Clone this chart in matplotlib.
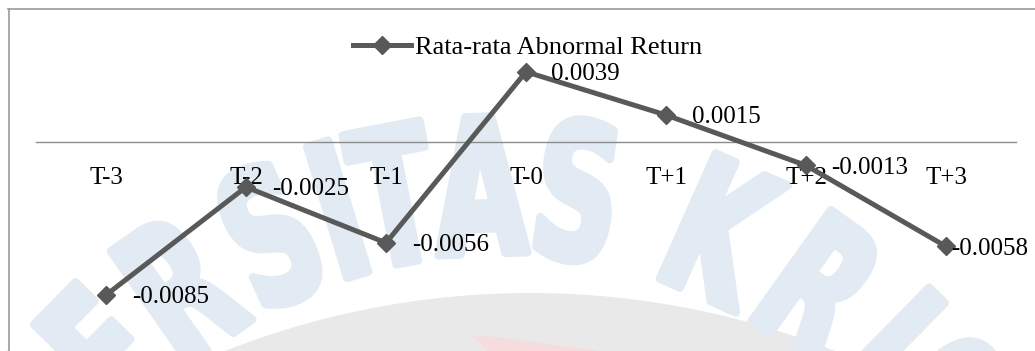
import numpy as np
import matplotlib
matplotlib.use("Agg")
import matplotlib.pyplot as plt
from matplotlib.lines import Line2D
from matplotlib.patches import PathPatch, Circle, Polygon
from matplotlib.textpath import TextPath
from matplotlib.font_manager import FontProperties
from matplotlib.transforms import Affine2D, IdentityTransform

# abnormal return around the event day
periods = ["T-3", "T-2", "T-1", "T-0", "T+1", "T+2", "T+3"]
avg_ar = [-0.0085, -0.0025, -0.0056, 0.0039, 0.0015, -0.0013, -0.0058]
series_name = "Rata-rata Abnormal Return"

# label offsets (points) to the right of each marker
label_dx = [19, 19, 19, 18, 19, 18, 3.5]

W, H = 1035, 351
line_color = "#595959"
plt.rcParams["font.family"] = ["Liberation Serif", "DejaVu Serif"]

fig = plt.figure(figsize=(W / 100, H / 100), dpi=100)
fig.patch.set_facecolor("white")

# ---- background stamp (pixel coords, origin bottom-left)
fig.add_artist(Circle((530, H - 1124), 831, transform=IdentityTransform(),
                      fc="#e9e9e9", ec="none", zorder=-3))
fig.add_artist(Polygon([(473, H - 336), (497, H - 337), (545, H - 344),
                        (600, H - 351), (488, H - 351)], closed=True,
                       transform=IdentityTransform(), fc="#f6dcdc",
                       ec="none", zorder=-2))

stamp_letters = ["V", "E", "R", "S", "I", "T", "A", "S", "K", "R", "I", "S", "T"]
stamp_angles = [-56, -45.5, -35, -24.5, -17, -11, -2, 8, 24, 35.5, 44.5, 52, 60]
cx, cy, rad = 500, 740, 555
stamp_color = "#e2eaf3"
fp = FontProperties(family="DejaVu Sans", weight="bold")
for ch, ang in zip(stamp_letters, stamp_angles):
    tp = TextPath((0, 0), ch, size=188, prop=fp)
    bb = tp.get_extents()
    a = np.radians(ang)
    px = cx + rad * np.sin(a)
    py = H - (cy - rad * np.cos(a))
    tr = (Affine2D().translate(-(bb.x0 + bb.x1) / 2, -(bb.y0 + bb.y1) / 2)
          .scale(0.62, 1).rotate_deg(-ang).translate(px, py))
    fig.add_artist(PathPatch(tr.transform_path(tp), transform=IdentityTransform(),
                             fc=stamp_color, ec=stamp_color, lw=6,
                             joinstyle="round", zorder=-1))

# ---- chart frame (only top/left edges fall inside the canvas)
fig.add_artist(Line2D([8.5 / W, 8.5 / W], [0, 1 - 8.5 / H], transform=fig.transFigure,
                      color="#9a9a9a", lw=1.2))
fig.add_artist(Line2D([8 / W, 1], [1 - 8.5 / H, 1 - 8.5 / H], transform=fig.transFigure,
                      color="#9a9a9a", lw=1.2))

ax = fig.add_axes([36 / W, 0, 980 / W, 1])
ax.set_facecolor("none")

x = np.arange(len(periods))
ax.plot(x, avg_ar, color=line_color, lw=3.6, marker="D", ms=9.5,
        mfc=line_color, mec=line_color, label=series_name, zorder=3,
        solid_joinstyle="miter")

for xi, v, dx in zip(x, avg_ar, label_dx):
    ax.annotate(f"{v:.4f}", (xi, v), xytext=(dx, -1.5), textcoords="offset points",
                ha="left", va="center", fontsize=18, color="black", zorder=4)

ax.set_xlim(-0.5, len(periods) - 0.5)
ax.set_ylim(-0.01161, 0.00789)

for s in ["top", "right", "left"]:
    ax.spines[s].set_visible(False)
ax.spines["bottom"].set_position(("data", 0))
ax.spines["bottom"].set_color("#8c8c8c")
ax.spines["bottom"].set_linewidth(1.0)
ax.spines["bottom"].set_zorder(1)
ax.set_yticks([])
ax.set_xticks(x)
ax.set_xticklabels(periods)
ax.tick_params(axis="x", length=0, pad=18, labelsize=18)

ax.legend(loc="center", bbox_to_anchor=(0.502, 0.864), frameon=False,
          fontsize=19, handlelength=2.2, handletextpad=0.15, borderpad=0)

fig.savefig("out.png", dpi=100)
